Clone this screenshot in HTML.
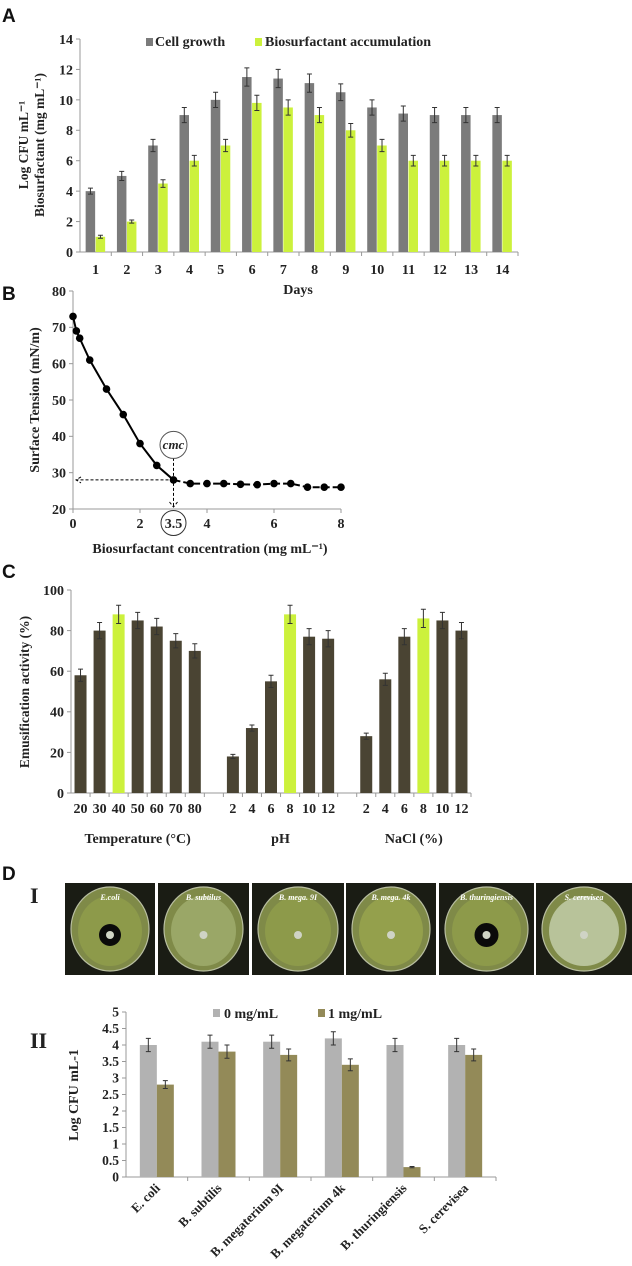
<!DOCTYPE html>
<html><head><meta charset="utf-8"><style>
html,body{margin:0;padding:0;background:#fff;}
svg{display:block;}
text{font-family:"Liberation Serif",serif;font-weight:bold;fill:#222;}
.pl{font-family:"Liberation Sans",sans-serif;font-size:19px;fill:#111;}
</style></head><body>
<svg id="fig" width="632" height="1266" viewBox="0 0 632 1266" xmlns="http://www.w3.org/2000/svg">
<text class="pl" x="2" y="22">A</text>
<text class="pl" x="2" y="300">B</text>
<text class="pl" x="2" y="578">C</text>
<text class="pl" x="2" y="880">D</text>
<g id="ga"></g>
<g id="gb"></g>
<g id="gc"></g>
<g id="gd1"></g>
<g id="gd2"></g>
</svg>
<script>
// ---- Chart A data
const daysA = ["1","2","3","4","5","6","7","8","9","10","11","12","13","14"];
const cellGrowth = [4,5,7,9,10,11.5,11.4,11.1,10.5,9.5,9.1,9,9,9];
const cellErr = [0.2,0.3,0.4,0.5,0.5,0.6,0.6,0.6,0.55,0.5,0.5,0.5,0.5,0.5];
const bioAcc = [1,2,4.5,6,7,9.8,9.5,9,8,7,6,6,6,6];
const bioErr = [0.1,0.1,0.25,0.35,0.4,0.5,0.5,0.5,0.45,0.4,0.35,0.35,0.35,0.35];
const ticksA = [0,2,4,6,8,10,12,14];
// ---- Chart B data
const concB = [0,0.1,0.2,0.5,1,1.5,2,2.5,3,3.5,4,4.5,5,5.5,6,6.5,7,7.5,8];
const tensionB = [73,69,67,61,53,46,38,32,28,27,27,27,26.8,26.7,27,27,26,26,26];
const ticksBy = [20,30,40,50,60,70,80];
const ticksBx = [0,2,4,6,8];
// ---- Chart C data
const tempLabels = ["20","30","40","50","60","70","80"];
const tempVals = [58,80,88,85,82,75,70];
const tempErr = [3,4,4.5,4,4,3.5,3.5];
const phLabels = ["2","4","6","8","10","12"];
const phVals = [18,32,55,88,77,76];
const phErr = [1,1.5,3,4.5,4,4];
const naclLabels = ["2","4","6","8","10","12"];
const naclVals = [28,56,77,86,85,80];
const naclErr = [1.5,3,4,4.5,4,4];
const ticksC = [0,20,40,60,80,100];
// ---- Chart D data
const strains = ["E. coli","B. subtilis","B. megaterium 9I","B. megaterium 4k","B. thuringiensis","S. cerevisea"];
const ctrl = [4,4.1,4.1,4.2,4,4];
const ctrlErr = [0.2,0.2,0.2,0.2,0.2,0.2];
const treated = [2.8,3.8,3.7,3.4,0.3,3.7];
const treatedErr = [0.12,0.2,0.18,0.18,0.02,0.18];
const ticksD = [0,0.5,1,1.5,2,2.5,3,3.5,4,4.5,5];
const plateNames = ["E.coli","B. subtilus","B. mega. 9I","B. mega. 4k","B. thuringiensis","S. cerevisea"];
const zoneR = [11,0,0,0,12,0];

const NS="http://www.w3.org/2000/svg";
function mk(p,t,a,txt){const e=document.createElementNS(NS,t);for(const k in a)e.setAttribute(k,a[k]);if(txt!==undefined)e.textContent=txt;p.appendChild(e);return e;}
function errBar(g,x,y1,y2,w){
  const e=mk(g,"path",{d:`M${x},${y1}V${y2}M${x-w},${y1}H${x+w}M${x-w},${y2}H${x+w}`,stroke:"#333","stroke-width":1,fill:"none"});
  
  
}
function axisY(g,x,ticks,sy,fs){
  const l=mk(g,"line",{x1:x,x2:x,y1:sy(ticks[ticks.length-1]),y2:sy(ticks[0]),stroke:"#999"});
  
  
  ticks.forEach(t=>{mk(g,"line",{x1:x-4,x2:x,y1:sy(t),y2:sy(t),stroke:"#999"});
    const tx=mk(g,"text",{x:x-7,y:sy(t)+fs*0.35,"text-anchor":"end","font-size":fs},String(t));
    
    });
}

// ===== Chart A
(function(){
  const g=document.getElementById("ga");
  const x0=80,x1=518,yb=252,yt=39;
  const sy=v=>yb-(v/14)*(yb-yt);
  const bw=(x1-x0)/daysA.length;
  axisY(g,x0,ticksA,sy,14);
  const ax=mk(g,"line",{x1:x0,x2:x1,y1:yb,y2:yb,stroke:"#999"});
  
  
  daysA.forEach((d,i)=>{
    const c=x0+bw*(i+0.5);
    mk(g,"line",{x1:x0+bw*(i+1),x2:x0+bw*(i+1),y1:yb,y2:yb+4,stroke:"#999"});
    const r1=mk(g,"rect",{x:c-10,y:sy(cellGrowth[i]),width:9.5,height:yb-sy(cellGrowth[i]),fill:"#7b7b7b"});
    
    
    const r2=mk(g,"rect",{x:c,y:sy(bioAcc[i]),width:9.5,height:yb-sy(bioAcc[i]),fill:"#ccf13c"});
    
    
    errBar(g,c-5.2,sy(cellGrowth[i]+cellErr[i]),sy(cellGrowth[i]-cellErr[i]),2.5);
    errBar(g,c+4.8,sy(bioAcc[i]+bioErr[i]),sy(bioAcc[i]-bioErr[i]),2.5);
    const t=mk(g,"text",{x:c,y:274,"text-anchor":"middle","font-size":14},d);
    
    
  });
  const xt=mk(g,"text",{x:298,y:294,"text-anchor":"middle","font-size":14},"Days");
  
  
  const yt1=mk(g,"text",{transform:"translate(28,145) rotate(-90)","text-anchor":"middle","font-size":13.5},"Log CFU mL\u207B\u00B9");
  
  
  const yt2=mk(g,"text",{transform:"translate(44,145) rotate(-90)","text-anchor":"middle","font-size":13.5},"Biosurfactant (mg mL\u207B\u00B9)");
  
  
  const lg=mk(g,"g",{});
  
  
  mk(lg,"rect",{x:146,y:38,width:7,height:8,fill:"#7b7b7b"});
  mk(lg,"text",{x:155,y:46,"font-size":14},"Cell growth");
  mk(lg,"rect",{x:255,y:38,width:7,height:8,fill:"#ccf13c"});
  mk(lg,"text",{x:265,y:46,"font-size":14},"Biosurfactant accumulation");
})();

// ===== Chart B
(function(){
  const g=document.getElementById("gb");
  const x0=73,x1=341,yb=509,yt=291;
  const sy=v=>yb-(v-20)/60*(yb-yt);
  const sx=v=>x0+v/8*(x1-x0);
  axisY(g,x0,ticksBy,sy,14);
  const ax=mk(g,"line",{x1:x0,x2:x1,y1:yb,y2:yb,stroke:"#999"});
  
  
  ticksBx.forEach(t=>{mk(g,"line",{x1:sx(t),x2:sx(t),y1:yb,y2:yb+4,stroke:"#999"});
    const tx=mk(g,"text",{x:sx(t),y:yb+19,"text-anchor":"middle","font-size":14},String(t));
    
    });
  const ci=concB.indexOf(3);
  const solid=concB.slice(0,ci+1).map((c,i)=>`${i?'L':'M'}${sx(c)},${sy(tensionB[i])}`).join("");
  const dash=concB.slice(ci).map((c,i)=>`${i?'L':'M'}${sx(c)},${sy(tensionB[i+ci])}`).join("");
  const l1=mk(g,"path",{d:solid,stroke:"#000","stroke-width":2,fill:"none"});
  
  
  const l2=mk(g,"path",{d:dash,stroke:"#000","stroke-width":2,fill:"none","stroke-dasharray":"7,3"});
  
  
  concB.forEach((c,i)=>{const p=mk(g,"circle",{cx:sx(c),cy:sy(tensionB[i]),r:3.8,fill:"#000"});
    
    });
  const cx=sx(3),cy=sy(28);
  mk(g,"path",{d:`M${cx},${cy}H${x0+3}M${x0+8},${cy-3}L${x0+3},${cy}L${x0+8},${cy+3}`,stroke:"#000","stroke-dasharray":"3,2",fill:"none"});
  mk(g,"path",{d:`M${cx},${cy-22}V${yb-2}M${cx-4},${yb-7}L${cx},${yb-2}L${cx+4},${yb-7}`,stroke:"#000","stroke-dasharray":"3,2",fill:"none"});
  const cm=mk(g,"g",{});
  
  
  mk(cm,"circle",{cx:cx,cy:cy-35,r:13.5,fill:"#fff",stroke:"#555"});
  mk(cm,"text",{x:cx,y:cy-31,"text-anchor":"middle","font-size":13,"font-style":"italic"},"cmc");
  mk(cm,"circle",{cx:cx,cy:yb+14,r:12.5,fill:"#fff",stroke:"#333"});
  mk(cm,"text",{x:cx,y:yb+19,"text-anchor":"middle","font-size":14},"3.5");
  const xt=mk(g,"text",{x:210,y:553,"text-anchor":"middle","font-size":14},"Biosurfactant concentration  (mg mL\u207B\u00B9)");
  
  
  const yt2=mk(g,"text",{transform:"translate(39,400) rotate(-90)","text-anchor":"middle","font-size":14},"Surface Tension (mN/m)");
  
  
})();

// ===== Chart C
(function(){
  const g=document.getElementById("gc");
  const x0=71,x1=471,yb=793,yt=590;
  const sy=v=>yb-v/100*(yb-yt);
  const sw=(x1-x0)/21;
  axisY(g,x0,ticksC,sy,14);
  const ax=mk(g,"line",{x1:x0,x2:x1,y1:yb,y2:yb,stroke:"#999"});
  
  
  for(let i=1;i<=21;i++)mk(g,"line",{x1:x0+sw*i,x2:x0+sw*i,y1:yb,y2:yb+4,stroke:"#999"});
  const groups=[[tempLabels,tempVals,tempErr,0,"Temperature (°C)"],[phLabels,phVals,phErr,8,"pH"],[naclLabels,naclVals,naclErr,15,"NaCl (%)"]];
  groups.forEach(([lb,vals,err,off,title])=>{
    vals.forEach((v,i)=>{
      const c=x0+sw*(off+i+0.5);
      const r=mk(g,"rect",{x:c-6,y:sy(v),width:12,height:yb-sy(v),fill:(lb===tempLabels?i===2:i===3)?"#ccf13c":"#4a4433"});
      
      
      errBar(g,c,sy(v+err[i]),sy(v-err[i]),2.5);
      const t=mk(g,"text",{x:c,y:813,"text-anchor":"middle","font-size":14},lb[i]);
      
      
    });
    const gt=mk(g,"text",{x:x0+sw*(off+vals.length/2),y:843,"text-anchor":"middle","font-size":14},title);
    
    
  });
  const yt2=mk(g,"text",{transform:"translate(29,692) rotate(-90)","text-anchor":"middle","font-size":13.5},"Emusification activity (%)");
  
  
})();

// ===== Plates
(function(){
  const g=document.getElementById("gd1");
  const lab=mk(g,"text",{x:30,y:903,"font-size":22},"I");
  
  
  const xs=[[65,155],[158,249],[252,344],[346,436],[439,534],[536,632]];
  const fills=["#8d9a4a","#9aa767","#8d9a4a","#94a04c","#8d9a4a","#b8c39a"];
  xs.forEach(([a,b],i)=>{
    const p=mk(g,"g",{});
    
    
    mk(p,"rect",{x:a,y:883,width:b-a,height:92,fill:"#1a1c14"});
    const cx=(a+b)/2,cy=929;
    mk(p,"ellipse",{cx:cx,cy:cy,rx:(b-a)/2-6,ry:42,fill:"#7f8a48",stroke:"#b8bea0","stroke-width":1.2});
    mk(p,"ellipse",{cx:cx,cy:cy+2,rx:(b-a)/2-13,ry:35,fill:fills[i]});
    if(zoneR[i])mk(p,"circle",{cx:cx,cy:cy+6,r:zoneR[i],fill:"#0a0a0a"});
    mk(p,"circle",{cx:cx,cy:cy+6,r:4,fill:"#cfd3c5"});
    const t=mk(p,"text",{x:cx,y:900,"text-anchor":"middle","font-size":8,"font-style":"italic",style:"fill:#fff"},plateNames[i]);
    
    
  });
})();

// ===== Chart D
(function(){
  const g=document.getElementById("gd2");
  const lab=mk(g,"text",{x:30,y:1048,"font-size":22},"II");
  
  
  const x0=126,x1=496,yb=1177,yt=1012;
  const sy=v=>yb-v/5*(yb-yt);
  const sw=(x1-x0)/strains.length;
  axisY(g,x0,ticksD,sy,13.5);
  const ax=mk(g,"line",{x1:x0,x2:x1,y1:yb,y2:yb,stroke:"#999"});
  
  
  strains.forEach((s,i)=>{
    const c=x0+sw*(i+0.5);
    mk(g,"line",{x1:x0+sw*(i+1),x2:x0+sw*(i+1),y1:yb,y2:yb+4,stroke:"#999"});
    const r1=mk(g,"rect",{x:c-17,y:sy(ctrl[i]),width:17,height:yb-sy(ctrl[i]),fill:"#b2b2b2"});
    
    
    const r2=mk(g,"rect",{x:c,y:sy(treated[i]),width:17,height:yb-sy(treated[i]),fill:"#938a58"});
    
    
    errBar(g,c-8.5,sy(ctrl[i]+ctrlErr[i]),sy(ctrl[i]-ctrlErr[i]),2.5);
    errBar(g,c+8.5,sy(treated[i]+treatedErr[i]),sy(treated[i]-treatedErr[i]),2.5);
    const t=mk(g,"text",{transform:`translate(${c+4},${yb+12}) rotate(-45)`,"text-anchor":"end","font-size":13},s);
    
    
  });
  const yt2=mk(g,"text",{transform:"translate(78,1095) rotate(-90)","text-anchor":"middle","font-size":14},"Log CFU mL-1");
  
  
  const lg=mk(g,"g",{});
  
  
  mk(lg,"rect",{x:213,y:1009,width:7,height:8,fill:"#b2b2b2"});
  mk(lg,"text",{x:224,y:1018,"font-size":14},"0 mg/mL");
  mk(lg,"rect",{x:318,y:1009,width:7,height:8,fill:"#938a58"});
  mk(lg,"text",{x:328,y:1018,"font-size":14},"1 mg/mL");
})();
</script>
</body></html>
